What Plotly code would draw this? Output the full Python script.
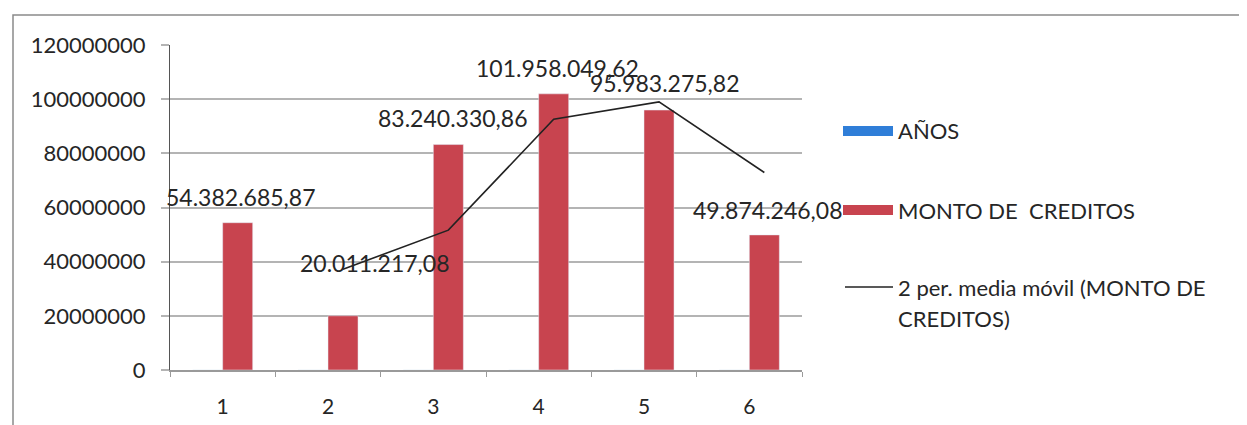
import plotly.graph_objects as go

# ---- data ----
categories = [1, 2, 3, 4, 5, 6]
anos = [1, 2, 3, 4, 5, 6]
monto = [54382685.87, 20011217.08, 83240330.86, 101958049.62, 95983275.82, 49874246.08]
monto_labels = ["54.382.685,87", "20.011.217,08", "83.240.330,86",
                "101.958.049,62", "95.983.275,82", "49.874.246,08"]
media_movil = [None, 37200000, 51630000, 92600000, 98970000, 72930000]
y_ticks = [0, 20000000, 40000000, 60000000, 80000000, 100000000, 120000000]
y_tick_text = ["0", "20000000", "40000000", "60000000", "80000000", "100000000", "120000000"]
legend_names = ["AÑOS", "MONTO DE  CREDITOS", "2 per. media móvil (MONTO DE", "CREDITOS)"]

# ---- layout geometry (pixels of the window; page body has an 8px margin) ----
PAGE = 8
W, H = 1247 - PAGE, 425 - PAGE
L, R, T, B = 170 - PAGE, 802 - PAGE, 45 - PAGE, 370 - PAGE
PW, PH = R - L, B - T

def px(x):
    return (x - PAGE - L) / PW

def py(y):
    return (B - (y - PAGE)) / PH

BARGAP = 0.43
BAR_W = (1 - BARGAP) / 2
OFF = BAR_W / 2

FONT = "Lato, Open Sans, sans-serif"
TXT = "#262626"
RED = "#C8444F"
BLUE = "#2F7ED8"

fig = go.Figure()
fig.add_trace(go.Bar(x=categories, y=anos, name=legend_names[0], marker_color=BLUE,
                     showlegend=False))
fig.add_trace(go.Bar(x=categories, y=monto, name=legend_names[1], marker_color=RED,
                     showlegend=False))
fig.add_trace(go.Scatter(x=[c + OFF for c in categories], y=media_movil, mode="lines",
                         line=dict(color="#222222", width=1.6), name="media movil",
                         showlegend=False, connectgaps=False))

# data labels
label_dx = [0.17, 0.44, 0.18, 0.18, 0.19, 0.17]
label_dy = [26, 53, 27, 26, 27, 25]
for c, v, t, dx, dy in zip(categories, monto, monto_labels, label_dx, label_dy):
    fig.add_annotation(x=c + dx, y=v, text=t, showarrow=False, yshift=dy,
                       xanchor="center", yanchor="middle",
                       font=dict(family=FONT, size=23, color=TXT))

# manual legend (Excel style keys)
shapes = []
shapes.append(dict(type="rect", xref="paper", yref="paper",
                   x0=px(843), x1=px(893), y0=py(136), y1=py(126),
                   fillcolor=BLUE, line=dict(width=0)))
shapes.append(dict(type="rect", xref="paper", yref="paper",
                   x0=px(843), x1=px(893), y0=py(215), y1=py(205),
                   fillcolor=RED, line=dict(width=0)))
shapes.append(dict(type="line", xref="paper", yref="paper",
                   x0=px(845), x1=px(893), y0=py(287), y1=py(287),
                   line=dict(color="#222222", width=1.6)))
# outer chart border
shapes.append(dict(type="rect", xref="paper", yref="paper",
                   x0=px(13), x1=px(1240), y0=py(440), y1=py(15),
                   line=dict(color="#8a8a8a", width=1.5), fillcolor="rgba(0,0,0,0)",
                   layer="below"))
for name, yy in zip(legend_names, [131, 210, 287, 318]):
    fig.add_annotation(xref="paper", yref="paper", x=px(896), y=py(yy), text=name,
                       showarrow=False, xanchor="left", yanchor="middle",
                       font=dict(family=FONT, size=22, color=TXT))

fig.update_layout(
    width=W, height=H,
    margin=dict(l=L, r=W - R, t=T, b=H - B, pad=0, autoexpand=False),
    paper_bgcolor="white", plot_bgcolor="white",
    barmode="group", bargap=BARGAP, bargroupgap=0,
    shapes=shapes,
    font=dict(family=FONT, color=TXT),
)
fig.update_xaxes(
    range=[0.5, 6.5], tickvals=categories, ticktext=[str(c) for c in categories],
    ticks="", showgrid=False, zeroline=False, automargin=False,
    showline=True, linecolor="#9a9a9a", linewidth=1.5,
    tickfont=dict(family=FONT, size=21, color=TXT), ticklabelstandoff=17,
    minor=dict(tick0=0.5, dtick=1, ticks="outside", ticklen=5, tickcolor="#9a9a9a",
               showgrid=False),
)
fig.update_yaxes(
    range=[0, 120000000], tickvals=y_ticks, ticktext=y_tick_text,
    showgrid=True, gridcolor="#b4b4b4", gridwidth=1.5, automargin=False,
    ticks="outside", ticklen=8, tickcolor="#b4b4b4", tickwidth=1.5,
    zeroline=False, showline=True, linecolor="#555555", linewidth=1.2,
    tickfont=dict(family=FONT, size=22, color=TXT), ticklabelstandoff=11,
)

fig.write_html("out.html")
